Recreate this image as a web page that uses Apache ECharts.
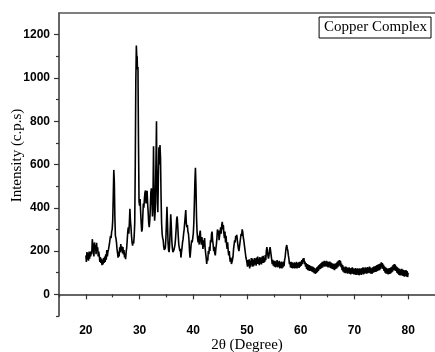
<!DOCTYPE html>
<html>
<head>
<meta charset="utf-8">
<script src="https://cdn.jsdelivr.net/npm/echarts@6/dist/echarts.min.js"></script>
<style>
    html, body { margin: 0; padding: 0; background: #fff; }
    #main { width: 435px; height: 352px; }
</style>
</head>
<body>
<div id="main"></div>
<script>
// 2θ (deg), intensity (c.p.s)
var scanA = [
    [20.0,180],[20.1,150],[20.2,195],[20.3,160],[20.4,190],[20.5,155],[20.6,198],[20.7,165],[20.8,195],[20.9,175],
    [21.0,200],[21.1,185],[21.2,255],[21.3,225],[21.4,205],[21.5,175],[21.6,240],[21.7,205],[21.8,228],[21.9,185],
    [22.0,238],[22.1,200],[22.2,218],[22.3,175],[22.4,198],[22.5,178],[22.6,150],[22.7,172],[22.8,145],[22.9,165],
    [23.0,135],[23.1,160],[23.2,138],[23.3,168],[23.4,145],[23.5,175],[23.6,150],[23.7,185],[23.8,160],[23.9,205],
    [24.0,175],[24.1,195],[24.2,205],[24.3,220],[24.4,235],[24.5,255],[24.6,270],[24.7,260],[24.8,290],[24.9,300],
    [25.0,340],[25.1,450],[25.2,575],[25.3,520],[25.4,360],[25.5,270],[25.6,260],[25.7,240],[25.8,210],[25.9,190],
    [26.0,170],[26.1,198],[26.2,175],[26.3,218],[26.4,195],[26.5,232],[26.6,200],[26.7,222],[26.8,190],[26.9,218],
    [27.0,185],[27.1,205],[27.2,170],[27.3,188],[27.4,162],[27.5,195],[27.6,215],[27.7,250],[27.8,290],[27.9,310],
    [28.0,280],[28.1,330],[28.2,395],[28.3,340],[28.4,310],[28.5,270],[28.6,240],[28.7,225],[28.8,245],[28.9,235]
];
var scanB = [
    [29.0,270],[29.1,330],[29.2,600],[29.3,980],[29.4,1150],[29.5,1080],[29.55,1100],[29.6,1040],[29.7,1050],[29.8,700],
    [29.9,430],[30.0,410],[30.1,440],[30.2,380],[30.3,330],[30.4,290],[30.5,300],[30.6,360],[30.7,420],[30.8,400],
    [30.9,440],[31.0,470],[31.1,480],[31.2,420],[31.3,440],[31.4,478],[31.5,420],[31.6,380],[31.7,330],[31.8,310],
    [31.9,340],[32.0,400],[32.1,470],[32.2,490],[32.3,440],[32.4,360],[32.5,450],[32.6,684],[32.7,420],[32.8,340],
    [32.9,380],[33.0,520],[33.1,700],[33.15,800],[33.2,600],[33.3,420],[33.4,380],[33.5,540],[33.6,680],[33.7,600],
    [33.8,690],[33.9,630],[34.0,450],[34.1,330],[34.2,280],[34.3,260],[34.4,250],[34.5,220],[34.6,205],[34.7,200],
    [34.8,215],[34.9,260]
];
var scanC = [
    [35.0,330],[35.1,405],[35.2,330],[35.3,240],[35.4,205],[35.5,195],[35.6,230],[35.7,300],[35.8,370],[35.9,320],
    [36.0,250],[36.1,215],[36.2,195],[36.3,190],[36.4,205],[36.5,210],[36.6,230],[36.7,260],[36.8,300],[36.9,345],
    [37.0,360],[37.1,320],[37.2,270],[37.3,230],[37.4,215],[37.5,200],[37.6,210],[37.7,170],[37.8,195],[37.9,215],
    [38.0,240],[38.1,255],[38.2,280],[38.3,300],[38.4,330],[38.5,360],[38.6,390],[38.7,330],[38.8,310],[38.9,320],
    [39.0,290],[39.1,280],[39.2,250],[39.3,200],[39.4,170],[39.5,200],[39.6,230],[39.7,250],[39.8,240],[39.9,260],
    [40.0,280],[40.1,330],[40.2,420],[40.3,520],[40.4,585],[40.5,500],[40.6,360],[40.7,290],[40.8,260],[40.9,240],
    [41.0,270],[41.1,230],[41.2,280],[41.3,295],[41.4,250],[41.5,230],[41.6,265],[41.7,240],[41.8,210],[41.9,250],
    [42.0,220],[42.1,260],[42.2,215],[42.3,190],[42.4,170],[42.5,140],[42.6,170],[42.7,155],[42.8,200],[42.9,185],
    [43.0,220],[43.1,200],[43.2,250],[43.3,240],[43.4,280],[43.5,290],[43.6,250],[43.7,230],[43.8,200],[43.9,220],
    [44.0,190],[44.1,180],[44.2,210],[44.3,230],[44.4,260],[44.5,300],[44.6,280],[44.7,295],[44.8,250],[44.9,270],
    [45.0,290],[45.1,310],[45.2,280],[45.3,320],[45.4,335],[45.5,300],[45.6,320],[45.7,280],[45.8,260],[45.9,290],
    [46.0,240],[46.1,270],[46.2,230],[46.3,210],[46.4,240],[46.5,200],[46.6,180],[46.7,200],[46.8,165],[46.9,150],
    [47.0,170],[47.1,140],[47.2,135],[47.3,160],[47.4,175],[47.5,210],[47.6,230],[47.7,250],[47.8,240],[47.9,270],
    [48.0,260],[48.1,275],[48.2,250],[48.3,230],[48.4,210],[48.5,200],[48.6,220],[48.7,240],[48.8,260],[48.9,280],
    [49.0,270],[49.1,300],[49.2,290],[49.3,265],[49.4,250],[49.5,230],[49.6,210],[49.7,190],[49.8,170],[49.9,160],
    [50.0,155],[50.1,128],[50.2,158],[50.3,130],[50.4,162],[50.5,120],[50.6,155],[50.7,128],[50.8,168],[50.9,135],
    [51.0,165],[51.1,128],[51.2,160],[51.3,132],[51.4,168],[51.5,138],[51.6,165],[51.7,132],[51.8,170],[51.9,140]
];
var scanD = [
    [52.0,175],[52.1,140],[52.2,165],[52.3,135],[52.4,172],[52.5,142],[52.6,168],[52.7,138],[52.8,175],[52.9,145],
    [53.0,178],[53.1,145],[53.2,170],[53.3,150],[53.4,182],[53.5,158],[53.6,200],[53.7,218],[53.8,222],[53.9,178],
    [54.0,165],[54.1,180],[54.2,205],[54.3,218],[54.4,212],[54.5,180],[54.6,160],[54.7,140],[54.8,160],[54.9,132],
    [55.0,155],[55.1,128],[55.2,155],[55.3,125],[55.4,152],[55.5,128],[55.6,158],[55.7,125],[55.8,150],[55.9,128],
    [56.0,155],[56.1,120],[56.2,148],[56.3,122],[56.4,152],[56.5,120],[56.6,148],[56.7,125],[56.8,152],[56.9,130],
    [57.0,160],[57.1,172],[57.2,198],[57.3,218],[57.4,228],[57.5,212],[57.6,202],[57.7,180],[57.8,165],[57.9,140],
    [58.0,150],[58.1,125],[58.2,150],[58.3,122],[58.4,148],[58.5,120],[58.6,145],[58.7,122],[58.8,148],[58.9,120],
    [59.0,145],[59.1,122],[59.2,150],[59.3,120],[59.4,145],[59.5,125],[59.6,148],[59.7,122],[59.8,150],[59.9,128],
    [60.0,152],[60.1,132],[60.2,158],[60.3,140],[60.4,165],[60.5,150],[60.6,168],[60.7,140],[60.8,152],[60.9,128],
    [61.0,145],[61.1,118],[61.2,140],[61.3,112],[61.4,138],[61.5,110],[61.6,135],[61.7,108],[61.8,132],[61.9,110],
    [62.0,130],[62.1,105],[62.2,128],[62.3,102],[62.4,125],[62.5,98],[62.6,122],[62.7,95],[62.8,118],[62.9,98],
    [63.0,125],[63.1,102],[63.2,130],[63.3,108],[63.4,135],[63.5,115],[63.6,140],[63.7,118],[63.8,145],[63.9,122],
    [64.0,150],[64.1,125],[64.2,152],[64.3,130],[64.4,155],[64.5,128],[64.6,152],[64.7,130],[64.8,155],[64.9,128],
    [65.0,152],[65.1,125],[65.2,150],[65.3,128],[65.4,152],[65.5,122],[65.6,148],[65.7,120],[65.8,145],[65.9,118],
    [66.0,140],[66.1,115],[66.2,142],[66.3,112],[66.4,140],[66.5,118],[66.6,145],[66.7,120],[66.8,150],[66.9,125],
    [67.0,155],[67.1,130],[67.2,158],[67.3,135],[67.4,155],[67.5,125],[67.6,142],[67.7,112],[67.8,135],[67.9,105],
    [68.0,128],[68.1,100],[68.2,125],[68.3,98],[68.4,128],[68.5,100],[68.6,125],[68.7,95],[68.8,122],[68.9,98],
    [69.0,125],[69.1,95],[69.2,120],[69.3,92],[69.4,122],[69.5,96],[69.6,125],[69.7,95],[69.8,120],[69.9,92],
    [70.0,118],[70.1,92],[70.2,122],[70.3,90],[70.4,118],[70.5,92],[70.6,120],[70.7,90],[70.8,118],[70.9,88],
    [71.0,120],[71.1,92],[71.2,118],[71.3,90],[71.4,122],[71.5,95],[71.6,125],[71.7,92],[71.8,120],[71.9,96],
    [72.0,125],[72.1,98],[72.2,122],[72.3,95],[72.4,126],[72.5,98],[72.6,124],[72.7,100],[72.8,128],[72.9,98],
    [73.0,124],[73.1,95],[73.2,120],[73.3,96],[73.4,125],[73.5,100],[73.6,128],[73.7,102],[73.8,130],[73.9,104],
    [74.0,132],[74.1,105],[74.2,135],[74.3,108],[74.4,138],[74.5,110],[74.6,140],[74.7,112],[74.8,142],[74.9,118],
    [75.0,148],[75.1,125],[75.2,145],[75.3,118],[75.4,138],[75.5,108],[75.6,130],[75.7,100],[75.8,125],[75.9,96],
    [76.0,122],[76.1,95],[76.2,118],[76.3,92],[76.4,120],[76.5,94],[76.6,122],[76.7,96],[76.8,125],[76.9,100],
    [77.0,128],[77.1,105],[77.2,135],[77.3,112],[77.4,140],[77.5,110],[77.6,138],[77.7,108],[77.8,130],[77.9,100],
    [78.0,125],[78.1,95],[78.2,120],[78.3,90],[78.4,118],[78.5,88],[78.6,115],[78.7,90],[78.8,118],[78.9,86],
    [79.0,115],[79.1,85],[79.2,112],[79.3,82],[79.4,110],[79.5,85],[79.6,112],[79.7,82],[79.8,108],[79.9,80],
    [80.0,100]
];

var xMajor = [20, 30, 40, 50, 60, 70, 80];
var xMinor = [15, 25, 35, 45, 55, 65, 75];
var yMajor = [0, 200, 400, 600, 800, 1000, 1200];
var yMinor = [-100, 100, 300, 500, 700, 900, 1100];

var pattern = scanA.concat(scanB, scanC, scanD);

var sans = 'Liberation Sans, Arial, sans-serif';
var serif = 'Liberation Serif, Times New Roman, serif';
var axisColor = '#333';

var myChart = echarts.init(document.getElementById('main'));

option = {
    backgroundColor: '#fff',
    animation: false,
    grid: {
        left: 59,
        right: 0,
        top: 13,
        bottom: 36,
        outerBoundsMode: 'none'
    },
    legend: {
        data: ['Copper Complex'],
        right: 4,
        top: 17,
        icon: 'none',
        itemWidth: 0,
        itemGap: 0,
        padding: [3, 4, 3, 0],
        borderColor: '#000',
        borderWidth: 1,
        textStyle: {
            fontFamily: serif,
            fontSize: 15,
            color: '#000'
        }
    },
    xAxis: [{
        type: 'value',
        min: 15,
        max: 85,
        name: '2θ (Degree)',
        nameLocation: 'middle',
        nameGap: 22,
        nameMoveOverlap: false,
        nameTextStyle: {
            fontFamily: serif,
            fontSize: 15,
            color: '#000'
        },
        splitLine: { show: false },
        axisLine: { lineStyle: { color: axisColor, width: 1.5 } },
        axisTick: {
            customValues: xMajor,
            length: 5,
            lineStyle: { color: axisColor, width: 1.2 }
        },
        axisLabel: {
            customValues: xMajor,
            margin: 9,
            fontFamily: sans,
            fontWeight: 'bold',
            fontSize: 12,
            color: '#000',
            formatter: function (v) { return String(v); }
        }
    }, {
        // minor ticks
        type: 'value',
        position: 'bottom',
        min: 15,
        max: 85,
        splitLine: { show: false },
        axisLine: { show: false },
        axisLabel: { show: false },
        axisTick: {
            customValues: xMinor,
            length: 3,
            lineStyle: { color: axisColor, width: 1.2 }
        }
    }, {
        // top frame line
        type: 'value',
        position: 'top',
        min: 15,
        max: 85,
        splitLine: { show: false },
        axisLine: { lineStyle: { color: '#555', width: 1.5 } },
        axisLabel: { show: false },
        axisTick: { show: false }
    }],
    yAxis: [{
        type: 'value',
        min: -100,
        max: 1300,
        name: 'Intensity (c.p.s)',
        nameLocation: 'middle',
        nameRotate: 90,
        nameGap: 34,
        nameMoveOverlap: false,
        nameTextStyle: {
            fontFamily: serif,
            fontSize: 15,
            color: '#000',
            padding: [0, 0, 0, 18]
        },
        splitLine: { show: false },
        axisLine: { show: true, lineStyle: { color: axisColor, width: 1.5 } },
        axisTick: {
            show: true,
            customValues: yMajor,
            length: 5,
            lineStyle: { color: axisColor, width: 1.2 }
        },
        axisLabel: {
            customValues: yMajor,
            margin: 9,
            fontFamily: sans,
            fontWeight: 'bold',
            fontSize: 12,
            color: '#000',
            formatter: function (v) { return String(v); }
        }
    }, {
        // minor ticks
        type: 'value',
        position: 'left',
        min: -100,
        max: 1300,
        splitLine: { show: false },
        axisLine: { show: false },
        axisLabel: { show: false },
        axisTick: {
            show: true,
            customValues: yMinor,
            length: 3,
            lineStyle: { color: axisColor, width: 1.2 }
        }
    }],
    series: [{
        name: 'Copper Complex',
        type: 'line',
        xAxisIndex: 0,
        yAxisIndex: 0,
        showSymbol: false,
        sampling: 'none',
        lineStyle: { color: '#000', width: 1.6 },
        itemStyle: { color: '#000' },
        data: pattern
    }]
};
myChart.setOption(option);
</script>
</body>
</html>
